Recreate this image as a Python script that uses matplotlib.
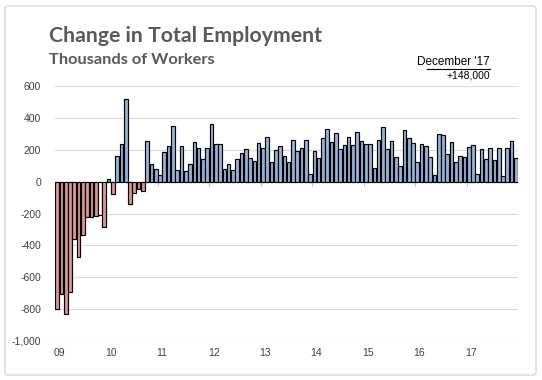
import matplotlib
matplotlib.use("Agg")
import matplotlib.pyplot as plt
from matplotlib.patches import FancyBboxPatch
import numpy as np

# Monthly change in total nonfarm employment (thousands), Jan 2009 - Dec 2017
v2009 = [-800, -706, -830, -694, -358, -474, -334, -220, -224, -214, -212, -282]
v2010 = [17, -77, 158, 238, 520, -140, -74, -46, -56, 258, 113, 82]
v2011 = [40, 185, 223, 348, 72, 222, 65, 108, 246, 208, 139, 208]
v2012 = [359, 234, 234, 77, 113, 71, 139, 177, 203, 146, 127, 240]
v2013 = [208, 282, 126, 198, 223, 162, 122, 261, 192, 210, 261, 46]
v2014 = [192, 147, 274, 333, 248, 305, 204, 229, 280, 227, 309, 253]
v2015 = [236, 236, 84, 261, 341, 204, 253, 154, 97, 324, 274, 240]
v2016 = [122, 236, 223, 156, 42, 299, 293, 173, 248, 122, 160, 156]
v2017 = [219, 229, 46, 206, 141, 213, 135, 213, 36, 213, 255, 147]
year_labels = ["09", "10", "11", "12", "13", "14", "15", "16", "17"]
y_ticks = [600, 400, 200, 0, -200, -400, -600, -800, -1000]
latest_label = "December '17"
latest_value = "+148,000"

values = v2009 + v2010 + v2011 + v2012 + v2013 + v2014 + v2015 + v2016 + v2017
x = np.arange(len(values))

BLUE = "#95B3D7"
RED = "#D99694"
colors = [BLUE if v >= 0 else RED for v in values]
colors[10] = "white"  # Nov '09 bar drawn with white fill in the reference

fig = plt.figure(figsize=(5.42, 3.80), dpi=100)
fig.patch.set_facecolor("white")

# light rounded border around the chart
border = FancyBboxPatch((5 / 542, 5 / 380), 531 / 542, 369 / 380,
                        boxstyle="round,pad=0,rounding_size=0.006",
                        transform=fig.transFigure, fill=False,
                        edgecolor="#D9D9D9", linewidth=1.0)
fig.patches.append(border)

ax = fig.add_axes([55 / 542, 39 / 380, 463 / 542, 255 / 380])
ax.bar(x, values, width=0.85, color=colors, edgecolor="black", linewidth=0.85, zorder=3)

ax.set_xlim(-0.5, len(values) - 0.5)
ax.set_ylim(-1000, 600)
ax.set_yticks(y_ticks)
ax.set_yticklabels([f"{t:,}" for t in y_ticks])
ax.yaxis.grid(True, color="#D9D9D9", linewidth=0.8, zorder=0)
ax.set_axisbelow(True)
for s in ax.spines.values():
    s.set_visible(False)
ax.tick_params(axis="y", length=0, pad=10, labelsize=7.5, labelcolor="#404040")

# year labels at bottom
ax.set_xticks(np.arange(0, len(values), 12) + 0.5)
ax.set_xticklabels(year_labels)
ax.tick_params(axis="x", length=0, pad=5, labelsize=7.5, labelcolor="#404040")

# zero line and small tick marks at year boundaries
ax.axhline(0, color="#BFBFBF", linewidth=0.8, zorder=2)
tick_pos = np.arange(11.5, len(values), 12)
ax.vlines(tick_pos, -25, 0, color="#BFBFBF", linewidth=0.8, zorder=2)

for t in ax.get_yticklabels() + ax.get_xticklabels():
    t.set_fontfamily("Liberation Sans")

fig.text(49 / 542, 1 - 36 / 380, "Change in Total Employment", fontsize=15.3,
         fontweight="bold", color="#595959", family="Lato", va="center", ha="left")
fig.text(49 / 542, 1 - 60 / 380, "Thousands of Workers", fontsize=11.8,
         fontweight="bold", color="#595959", family="Lato", va="center", ha="left")

fig.text(490 / 542, 1 - 62 / 380, latest_label, fontsize=8.5, color="black",
         family="Liberation Sans", va="center", ha="right")
fig.lines.append(plt.Line2D([427 / 542, 490 / 542], [1 - 68.5 / 380, 1 - 68.5 / 380],
                            transform=fig.transFigure, color="black", linewidth=0.8))
fig.text(490 / 542, 1 - 76 / 380, latest_value, fontsize=7.5, color="black",
         family="Liberation Sans", va="center", ha="right")

fig.savefig("out.png", dpi=100)
